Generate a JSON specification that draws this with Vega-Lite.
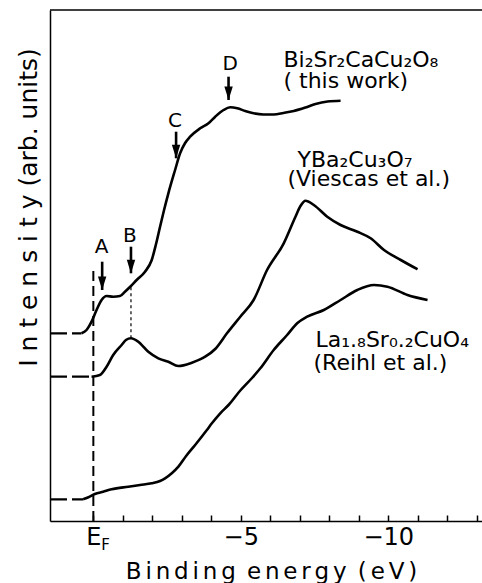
{
  "$schema": "https://vega.github.io/schema/vega-lite/v6.json",
  "width": 432,
  "height": 511,
  "autosize": {"type": "none"},
  "padding": {"left": 50, "top": 10, "right": 0, "bottom": 62},
  "background": "white",
  "config": {"view": {"stroke": null}, "font": "DejaVu Sans"},
  "datasets": {
    "curves": [
      {"series": "Bi", "E": 0.401, "I": 18.77}, {"series": "Bi", "E": 0.231, "I": 19.10}, {"series": "Bi", "E": 0.061, "I": 19.93},
      {"series": "Bi", "E": -0.109, "I": 21.10}, {"series": "Bi", "E": -0.279, "I": 22.10}, {"series": "Bi", "E": -0.449, "I": 22.50},
      {"series": "Bi", "E": -0.673, "I": 22.43}, {"series": "Bi", "E": -0.901, "I": 22.50}, {"series": "Bi", "E": -1.071, "I": 22.93},
      {"series": "Bi", "E": -1.276, "I": 23.50}, {"series": "Bi", "E": -1.469, "I": 24.10}, {"series": "Bi", "E": -1.752, "I": 24.93},
      {"series": "Bi", "E": -1.980, "I": 26.10}, {"series": "Bi", "E": -2.126, "I": 27.70}, {"series": "Bi", "E": -2.262, "I": 29.43},
      {"series": "Bi", "E": -2.398, "I": 31.10}, {"series": "Bi", "E": -2.544, "I": 32.77}, {"series": "Bi", "E": -2.772, "I": 35.10},
      {"series": "Bi", "E": -2.942, "I": 36.77}, {"series": "Bi", "E": -3.112, "I": 37.80}, {"series": "Bi", "E": -3.282, "I": 38.43},
      {"series": "Bi", "E": -3.622, "I": 39.27}, {"series": "Bi", "E": -3.905, "I": 39.77}, {"series": "Bi", "E": -4.133, "I": 40.43},
      {"series": "Bi", "E": -4.415, "I": 41.10}, {"series": "Bi", "E": -4.643, "I": 41.37}, {"series": "Bi", "E": -4.881, "I": 41.27},
      {"series": "Bi", "E": -5.153, "I": 41.00}, {"series": "Bi", "E": -5.435, "I": 40.77}, {"series": "Bi", "E": -5.765, "I": 40.65},
      {"series": "Bi", "E": -6.116, "I": 40.65}, {"series": "Bi", "E": -6.446, "I": 40.80}, {"series": "Bi", "E": -6.796, "I": 41.00},
      {"series": "Bi", "E": -7.194, "I": 41.35}, {"series": "Bi", "E": -7.534, "I": 41.70}, {"series": "Bi", "E": -7.942, "I": 41.95},
      {"series": "Bi", "E": -8.384, "I": 42.03},
      {"series": "Y", "E": 0.061, "I": 14.43}, {"series": "Y", "E": -0.221, "I": 14.60}, {"series": "Y", "E": -0.449, "I": 15.43},
      {"series": "Y", "E": -0.673, "I": 16.60}, {"series": "Y", "E": -0.959, "I": 17.60}, {"series": "Y", "E": -1.105, "I": 18.10},
      {"series": "Y", "E": -1.276, "I": 18.27}, {"series": "Y", "E": -1.524, "I": 17.93}, {"series": "Y", "E": -1.864, "I": 16.93},
      {"series": "Y", "E": -2.204, "I": 16.27}, {"series": "Y", "E": -2.544, "I": 15.93}, {"series": "Y", "E": -2.884, "I": 15.50},
      {"series": "Y", "E": -3.340, "I": 15.83}, {"series": "Y", "E": -3.793, "I": 16.43}, {"series": "Y", "E": -4.133, "I": 17.20},
      {"series": "Y", "E": -4.531, "I": 18.77}, {"series": "Y", "E": -4.983, "I": 20.43}, {"series": "Y", "E": -5.435, "I": 22.10},
      {"series": "Y", "E": -5.891, "I": 25.10}, {"series": "Y", "E": -6.456, "I": 27.77}, {"series": "Y", "E": -6.854, "I": 30.43},
      {"series": "Y", "E": -7.024, "I": 31.50}, {"series": "Y", "E": -7.194, "I": 32.03}, {"series": "Y", "E": -7.476, "I": 31.60},
      {"series": "Y", "E": -7.932, "I": 30.43}, {"series": "Y", "E": -8.384, "I": 29.60}, {"series": "Y", "E": -8.952, "I": 28.93},
      {"series": "Y", "E": -9.405, "I": 28.27}, {"series": "Y", "E": -9.857, "I": 27.10}, {"series": "Y", "E": -10.425, "I": 26.10},
      {"series": "Y", "E": -10.993, "I": 25.17},
      {"series": "La", "E": 0.347, "I": 2.17}, {"series": "La", "E": 0.187, "I": 2.35}, {"series": "La", "E": -0.051, "I": 2.70},
      {"series": "La", "E": -0.333, "I": 2.93}, {"series": "La", "E": -0.619, "I": 3.17}, {"series": "La", "E": -1.184, "I": 3.43},
      {"series": "La", "E": -1.582, "I": 3.60}, {"series": "La", "E": -1.980, "I": 3.77}, {"series": "La", "E": -2.262, "I": 4.00},
      {"series": "La", "E": -2.432, "I": 4.27}, {"series": "La", "E": -2.670, "I": 4.80}, {"series": "La", "E": -2.884, "I": 5.43},
      {"series": "La", "E": -3.146, "I": 6.50}, {"series": "La", "E": -3.452, "I": 7.60}, {"series": "La", "E": -3.850, "I": 9.10},
      {"series": "La", "E": -4.020, "I": 9.77}, {"series": "La", "E": -4.303, "I": 10.77}, {"series": "La", "E": -4.585, "I": 11.60},
      {"series": "La", "E": -4.983, "I": 13.05}, {"series": "La", "E": -5.381, "I": 14.30}, {"series": "La", "E": -5.663, "I": 15.27},
      {"series": "La", "E": -6.116, "I": 17.10}, {"series": "La", "E": -6.571, "I": 18.60}, {"series": "La", "E": -6.912, "I": 19.77},
      {"series": "La", "E": -7.252, "I": 20.43}, {"series": "La", "E": -7.816, "I": 21.10}, {"series": "La", "E": -8.384, "I": 22.10},
      {"series": "La", "E": -8.952, "I": 23.10}, {"series": "La", "E": -9.517, "I": 23.60}, {"series": "La", "E": -9.973, "I": 23.43},
      {"series": "La", "E": -10.653, "I": 22.60}, {"series": "La", "E": -11.333, "I": 22.10}
    ],
    "baselines": [
      {"series": "Bi", "E": 1.47, "I": 18.77}, {"series": "Bi", "E": 0.401, "I": 18.77},
      {"series": "Y", "E": 1.47, "I": 14.43}, {"series": "Y", "E": 0.061, "I": 14.43},
      {"series": "La", "E": 1.47, "I": 2.17}, {"series": "La", "E": 0.347, "I": 2.17}
    ],
    "efline": [{"E": 0, "I": 0, "I2": 25.3}],
    "bline": [{"E": -1.276, "I": 18.27, "I2": 23.5}],
    "arrows": [
      {"label": "A", "E": -0.299, "I": 23.1, "I2": 25.93},
      {"label": "B", "E": -1.276, "I": 24.77, "I2": 27.43},
      {"label": "C", "E": -2.806, "I": 36.27, "I2": 38.93},
      {"label": "D", "E": -4.585, "I": 42.1, "I2": 44.43}
    ],
    "letters": [
      {"text": "A", "E": -0.279, "I": 26.8},
      {"text": "B", "E": -1.241, "I": 27.93},
      {"text": "C", "E": -2.772, "I": 39.4},
      {"text": "D", "E": -4.643, "I": 45.1}
    ],
    "names": [
      {"text": "Bi₂Sr₂CaCu₂O₈", "E": -6.446, "I": 45.4},
      {"text": "( this work)", "E": -6.446, "I": 43.3},
      {"text": "YBa₂Cu₃O₇", "E": -6.922, "I": 35.4},
      {"text": "(Viescas et al.)", "E": -6.582, "I": 33.5},
      {"text": "La₁.₈Sr₀.₂CuO₄", "E": -7.534, "I": 17.45},
      {"text": "(Reihl et al.)", "E": -7.466, "I": 15.1}
    ],
    "sub": [{"text": "F", "E": 0, "I": 0}],
    "frame": [{"E": 1.47, "E2": -13.18, "I": 51.1}]
  },
  "encoding": {
    "x": {
      "field": "E",
      "type": "quantitative",
      "scale": {"domain": [-13.18, 1.47], "reverse": true, "nice": false, "zero": false},
      "axis": {
        "title": "B\u2006i\u2006n\u2006d\u2006i\u2006n\u2006g \u2006e\u2006n\u2006e\u2006r\u2006g\u2006y \u2006(\u2006e\u2006V\u2006)",
        "values": [0, -1, -2, -3, -4, -5, -6, -7, -8, -9, -10, -11, -12, -13],
        "labelExpr": "datum.value == 0 ? 'E' : (datum.value % 5 == 0 ? '−' + (-datum.value) : '')",
        "grid": false,
        "tickSize": -6,
        "tickColor": "black",
        "tickWidth": 1.5,
        "domainColor": "black",
        "domainWidth": 1.5,
        "labelFontSize": 24,
        "labelColor": "black",
        "labelPadding": 10,
        "labelFlush": false,
        "labelOverlap": false,
        "titleFontSize": 23,
        "titleFontWeight": "normal",
        "titleColor": "black",
        "titleX": 221,
        "titleY": 57,
        "titleBaseline": "alphabetic",
        "titleAlign": "center"
      }
    },
    "y": {
      "field": "I",
      "type": "quantitative",
      "scale": {"domain": [0, 51.1], "nice": false, "zero": false},
      "axis": {
        "title": "I n t e n s i t y  (arb. units)",
        "ticks": false,
        "labels": false,
        "grid": false,
        "domainColor": "black",
        "domainWidth": 1.5,
        "titleFontSize": 25,
        "titleFontWeight": "normal",
        "titleColor": "black",
        "titleX": -14,
        "titleY": 197,
        "titleAngle": -90,
        "titleBaseline": "alphabetic",
        "titleAlign": "center"
      }
    }
  },
  "layer": [
    {
      "data": {"name": "curves"},
      "mark": {"type": "line", "color": "black", "strokeWidth": 2.6, "interpolate": "monotone"},
      "encoding": {"detail": {"field": "series"}}
    },
    {
      "data": {"name": "baselines"},
      "mark": {"type": "line", "color": "black", "strokeWidth": 2.2, "strokeDash": [17, 5]},
      "encoding": {"detail": {"field": "series"}}
    },
    {
      "data": {"name": "efline"},
      "mark": {"type": "rule", "color": "black", "strokeWidth": 2, "strokeDash": [10, 5]},
      "encoding": {"y2": {"field": "I2"}}
    },
    {
      "data": {"name": "bline"},
      "mark": {"type": "rule", "color": "black", "strokeWidth": 1.2, "strokeDash": [3, 3]},
      "encoding": {"y2": {"field": "I2"}}
    },
    {
      "data": {"name": "arrows"},
      "mark": {"type": "rule", "color": "black", "strokeWidth": 2.6},
      "encoding": {"y2": {"field": "I2"}}
    },
    {
      "data": {"name": "arrows"},
      "mark": {"type": "point", "filled": true, "color": "black", "opacity": 1, "strokeWidth": 0, "size": 400, "shape": "M-0.42,-1.35L0.42,-1.35L0,0Z"}
    },
    {
      "data": {"name": "letters"},
      "mark": {"type": "text", "fontSize": 20, "align": "center", "baseline": "alphabetic", "color": "black"},
      "encoding": {"text": {"field": "text"}}
    },
    {
      "data": {"name": "names"},
      "mark": {"type": "text", "fontSize": 22, "align": "left", "baseline": "alphabetic", "color": "black"},
      "encoding": {"text": {"field": "text"}}
    },
    {
      "data": {"name": "sub"},
      "mark": {"type": "text", "fontSize": 15, "align": "left", "baseline": "alphabetic", "color": "black", "dx": 8, "dy": 29},
      "encoding": {"text": {"field": "text"}}
    },
    {
      "data": {"name": "frame"},
      "mark": {"type": "rule", "color": "black", "strokeWidth": 1.5},
      "encoding": {"x2": {"field": "E2"}}
    }
  ]
}
